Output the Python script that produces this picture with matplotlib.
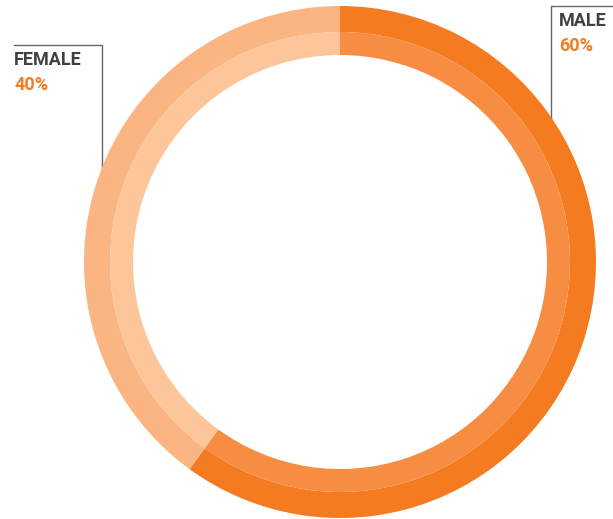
import matplotlib.pyplot as plt

plt.rcParams["font.family"] = ["Roboto", "DejaVu Sans"]

# gender split
labels = ["MALE", "FEMALE"]
shares = [60, 40]

outer_colors = ["#F47B20", "#FBB582"]
inner_colors = ["#F68D42", "#FCC59A"]

W, H = 613, 519
fig = plt.figure(figsize=(W / 100, H / 100), dpi=100)
ax = fig.add_axes([0, 0, 1, 1])
ax.set_xlim(0, W)
ax.set_ylim(0, H)
ax.set_aspect("equal")
ax.axis("off")

cx, cy = 340, H - 262
r_out, r_mid, r_in = 256, 230, 207

# leader lines sit underneath the ring
ax.plot([W, 551, 551], [H - 6, H - 6, H - 125], color="#666666", lw=1.0, zorder=1)
ax.plot([14, 102, 102], [H - 45, H - 45, H - 175], color="#666666", lw=1.0, zorder=1)

ax.pie(shares, colors=outer_colors, startangle=90, counterclock=False,
       center=(cx, cy), radius=r_out, frame=True,
       wedgeprops=dict(width=r_out - r_mid, linewidth=0, zorder=2))
ax.pie(shares, colors=inner_colors, startangle=90, counterclock=False,
       center=(cx, cy), radius=r_mid, frame=True,
       wedgeprops=dict(width=r_mid - r_in, linewidth=0, zorder=2))
ax.set_xlim(0, W)
ax.set_ylim(0, H)
ax.axis("off")

name_kw = dict(fontsize=13, fontweight="bold", color="#404040", va="top", ha="left")
pct_kw = dict(fontsize=13, fontweight="bold", color="#F47B20", va="top", ha="left")

ax.text(559, H - 12, labels[0], **name_kw)
ax.text(559, H - 37, f"{shares[0]}%", **pct_kw)
ax.text(14, H - 51, labels[1], **name_kw)
ax.text(14, H - 76, f"{shares[1]}%", **pct_kw)

fig.savefig("out.png", dpi=100)
